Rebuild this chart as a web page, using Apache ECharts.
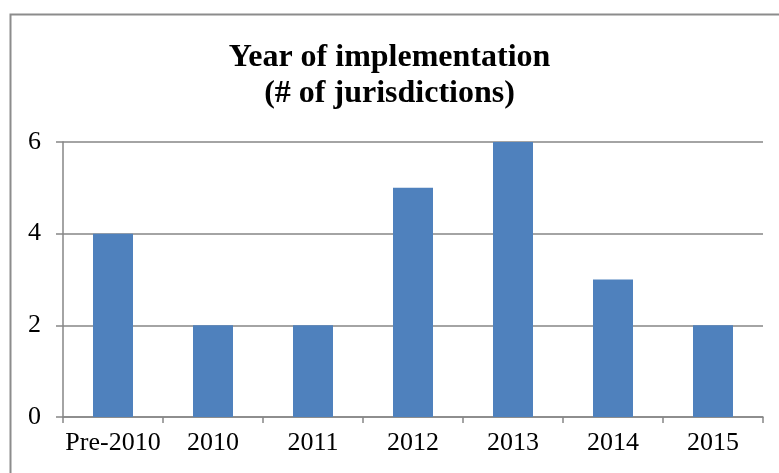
<!DOCTYPE html>
<html>
<head>
<meta charset="utf-8">
<script src="https://cdn.jsdelivr.net/npm/echarts@6/dist/echarts.min.js"></script>
<style>
  html, body { margin: 0; padding: 0; background: #fff; }
  #chart { width: 779px; height: 473px; }
</style>
</head>
<body>
<div id="chart"></div>
<script>
  // data
  var categories = ['Pre-2010', '2010', '2011', '2012', '2013', '2014', '2015']
  var counts = [4, 2, 2, 5, 6, 3, 2]
  var titleText = 'Year of implementation\n(# of jurisdictions)'

  var serif = '"Liberation Serif", "Times New Roman", serif'
  var chart = echarts.init(document.getElementById('chart'))

  chart.setOption({
    animation: false,
    backgroundColor: '#fff',
    graphic: [
      {
        type: 'rect',
        shape: { x: 10.5, y: 14.5, width: 800, height: 500 },
        style: { fill: 'none', stroke: '#8c8c8c', lineWidth: 2 },
        silent: true,
      },
    ],
    title: {
      text: titleText,
      left: 'center',
      top: 35,
      textStyle: { fontFamily: serif, fontWeight: 'bold', fontSize: 32, color: '#000', lineHeight: 36 },
    },
    grid: { left: 63, right: 16, top: 142, bottom: 56 },
    xAxis: {
      type: 'category',
      data: categories,
      axisLine: { lineStyle: { color: '#868686', width: 1.5 } },
      axisTick: { show: true, length: 6, lineStyle: { color: '#868686', width: 1.5 } },
      axisLabel: { interval: 0, fontFamily: serif, fontSize: 26, color: '#000', margin: 13 },
    },
    yAxis: {
      type: 'value',
      min: 0,
      max: 6,
      interval: 2,
      axisLine: { show: true, lineStyle: { color: '#868686', width: 1.5 } },
      axisTick: { show: true, length: 7, lineStyle: { color: '#868686', width: 1.5 } },
      splitLine: { lineStyle: { color: '#868686', width: 1.5 } },
      axisLabel: { fontFamily: serif, fontSize: 26, color: '#000', margin: 22 },
    },
    series: [
      {
        type: 'bar',
        data: counts,
        barWidth: '40%',
        itemStyle: { color: '#4F81BD' },
      },
    ],
  })
</script>
</body>
</html>
